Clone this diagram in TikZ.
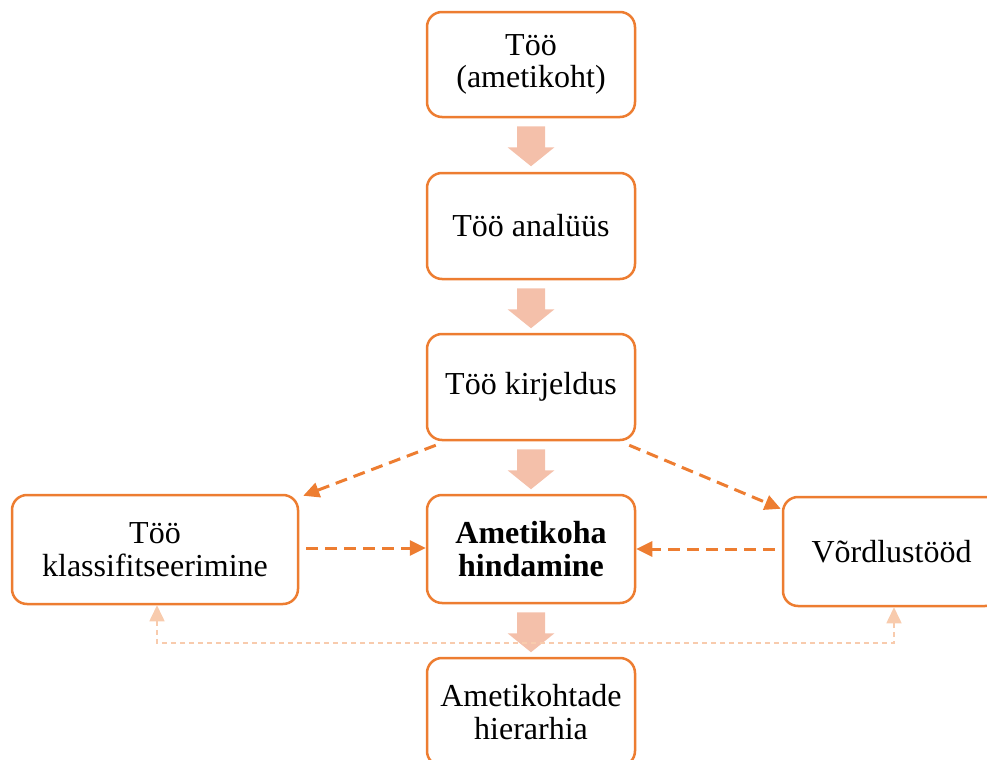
\documentclass[tikz,border=0pt]{standalone}
\usepackage{fontspec}
\setmainfont{Liberation Serif}
\usetikzlibrary{arrows.meta,calc}
\definecolor{org}{HTML}{ED7D31}
\definecolor{blk}{HTML}{F4C0AA}
\definecolor{lite}{HTML}{F8CBAD}
\newcommand\blkarrow[1]{%
  \fill[blk] ($(#1.south)+(-14,8)$) -- ++(28,0) -- ++(0,21) -- ++(9.5,0)
    -- ($(#1.south)+(0,48)$) -- ($(#1.south)+(-23.5,29)$) -- ++(9.5,0) -- cycle;}
\begin{document}
\begin{tikzpicture}[x=0.5pt,y=-0.5pt,
  box/.style={draw=org,line width=1.25pt,rounded corners=7.5pt,fill=white,
    align=center,inner sep=0pt,font=\fontsize{16}{16.2}\selectfont},
  dasharr/.style={draw=org,line width=1.5pt,dash pattern=on 6pt off 3.5pt,
    -{Triangle[length=8pt,width=7.5pt]}},
  dotl/.style={draw=lite,line width=0.8pt,dash pattern=on 2.5pt off 2pt,
    {Triangle[length=8pt,width=7.5pt]}-{Triangle[length=8pt,width=7.5pt]}}]
\useasboundingbox (0,0) rectangle (987,760);
\clip (0,0) rectangle (987,760);
\node[box,minimum width=104pt,minimum height=52.5pt] (b1) at (531,64.5) {Töö\\(ametikoht)};
\node[box,minimum width=104pt,minimum height=53pt] (b2) at (531,226) {Töö analüüs};
\node[box,minimum width=104pt,minimum height=53pt] (b3) at (531,387) {Töö kirjeldus};
\node[box,minimum width=104pt,minimum height=54pt,font=\fontsize{16}{16.2}\selectfont\bfseries] (b4) at (531,549) {Ametikoha\\hindamine};
\node[box,minimum width=104pt,minimum height=54pt] (b5) at (531,712) {Ametikohtade\\hierarhia};
\node[box,minimum width=143pt,minimum height=54.5pt] (left) at (155,549.5) {Töö\\klassifitseerimine};
\node[box,minimum width=108.5pt,minimum height=54.5pt] (right) at (891.5,551.5) {Võrdlustööd};
\blkarrow{b1}
\blkarrow{b2}
\blkarrow{b3}
\blkarrow{b4}
\draw[dasharr] ($(b3.south west)+(10,4)$) -- ($(left.north east)+(4,2)$);
\draw[dasharr] ($(b3.south east)+(-7,4)$) -- ($(right.north west)+(-1,13)$);
\draw[dasharr] ($(left.east |- b4.west)+(7,-1)$) -- ($(b4.west)+(0,-1)$);
\draw[dasharr] ($(right.west |- b4.east)+(-7,0)$) -- (b4.east);
\coordinate (dl) at (157,643);
\coordinate (dr) at (894,643);
\draw[dotl] (dl |- left.south) -- (dl) -- (dr) -- (dr |- right.south);
\end{tikzpicture}
\end{document}
